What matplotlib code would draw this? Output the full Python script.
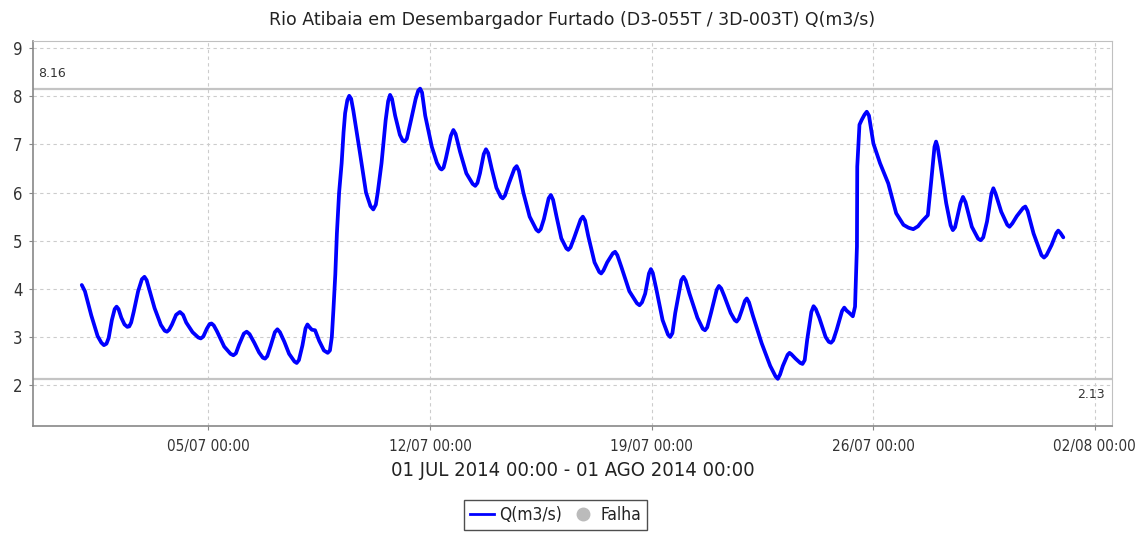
"""
Vazão do Rio Atibaia em Desembargador Furtado - julho/2014
"""

import matplotlib
matplotlib.use("Agg")
import matplotlib.pyplot as plt
import matplotlib.dates as mdates
from matplotlib.lines import Line2D
import pandas as pd

# dias desde 01/07/2014 00:00 e vazão (m3/s)
dias = [
    0.00, 0.10, 0.30, 0.50, 0.62, 0.70, 0.78, 0.85, 0.95, 1.04, 1.10, 1.16, 1.25, 1.35,
    1.44, 1.50, 1.56, 1.64, 1.78, 1.90, 1.98, 2.05, 2.15, 2.30, 2.50, 2.62, 2.69, 2.76,
    2.85, 2.98, 3.10, 3.20, 3.30, 3.50, 3.68, 3.76, 3.84, 3.95, 4.04, 4.10, 4.17, 4.27,
    4.50, 4.70, 4.79, 4.87, 4.97, 5.12, 5.21, 5.30, 5.45, 5.60, 5.72, 5.79, 5.86, 5.97,
    6.10, 6.18, 6.26, 6.40, 6.55, 6.72, 6.79, 6.86, 6.97, 7.07, 7.13, 7.20, 7.27, 7.37,
    7.50, 7.65, 7.77, 7.84, 7.90, 7.95, 8.01, 8.06, 8.13, 8.21, 8.27, 8.32, 8.39, 8.45,
    8.51, 8.58, 8.79, 8.98, 9.12, 9.21, 9.29, 9.35, 9.47, 9.60, 9.68, 9.74, 9.80, 9.90,
    10.05, 10.14, 10.20, 10.27, 10.40, 10.55, 10.63, 10.69, 10.75, 10.85, 11.06, 11.22,
    11.32, 11.37, 11.43, 11.50, 11.66, 11.74, 11.81, 11.95, 12.15, 12.35, 12.43, 12.50,
    12.58, 12.70, 12.77, 12.84, 12.95, 13.10, 13.24, 13.30, 13.37, 13.50, 13.67, 13.74,
    13.81, 13.95, 14.15, 14.36, 14.43, 14.50, 14.60, 14.75, 14.82, 14.89, 15.00, 15.15,
    15.31, 15.37, 15.44, 15.55, 15.76, 15.83, 15.90, 16.00, 16.20, 16.35, 16.41, 16.48,
    16.60, 16.78, 16.85, 16.92, 17.05, 17.30, 17.54, 17.62, 17.70, 17.80, 17.92, 17.98,
    18.04, 18.15, 18.35, 18.52, 18.59, 18.66, 18.75, 18.94, 19.01, 19.08, 19.20, 19.45,
    19.62, 19.69, 19.76, 19.88, 20.06, 20.13, 20.20, 20.30, 20.50, 20.63, 20.69, 20.76,
    20.85, 20.95, 21.01, 21.08, 21.20, 21.48, 21.75, 21.92, 21.99, 22.06, 22.15, 22.30,
    22.36, 22.42, 22.55, 22.70, 22.77, 22.84, 22.92, 23.05, 23.12, 23.19, 23.30, 23.50,
    23.60, 23.67, 23.74, 23.85, 24.02, 24.09, 24.16, 24.25, 24.36, 24.43, 24.49, 24.50,
    24.57, 24.64, 24.73, 24.80, 24.87, 25.01, 25.22, 25.48, 25.73, 25.96, 26.12, 26.27,
    26.42, 26.54, 26.73, 26.84, 26.94, 26.99, 27.04, 27.12, 27.31, 27.45, 27.52, 27.59,
    27.76, 27.84, 27.92, 28.12, 28.32, 28.40, 28.48, 28.60, 28.74, 28.80, 28.87, 29.05,
    29.24, 29.31, 29.40, 29.54, 29.74, 29.81, 29.88, 30.07, 30.32, 30.40, 30.48, 30.64,
    30.79, 30.85, 30.92, 31.01,
]
vazao = [
    4.08, 3.95, 3.45, 3.02, 2.88, 2.83, 2.86, 2.98, 3.35, 3.58, 3.63, 3.58, 3.40, 3.26,
    3.21, 3.22, 3.30, 3.52, 3.95, 4.20, 4.25, 4.18, 3.95, 3.60, 3.25, 3.13, 3.11, 3.15,
    3.26, 3.46, 3.52, 3.46, 3.30, 3.10, 2.99, 2.97, 3.01, 3.17, 3.27, 3.28, 3.24, 3.12,
    2.80, 2.65, 2.62, 2.66, 2.84, 3.07, 3.11, 3.06, 2.88, 2.68, 2.57, 2.55, 2.60, 2.82,
    3.10, 3.16, 3.10, 2.90, 2.65, 2.49, 2.46, 2.52, 2.82, 3.18, 3.26, 3.20, 3.15, 3.14,
    2.92, 2.72, 2.67, 2.72, 3.00, 3.56, 4.30, 5.15, 6.00, 6.61, 7.25, 7.65, 7.92, 8.01,
    7.95, 7.70, 6.82, 6.00, 5.72, 5.65, 5.75, 6.00, 6.61, 7.50, 7.90, 8.03, 7.95, 7.60,
    7.20, 7.08, 7.06, 7.12, 7.50, 7.95, 8.12, 8.16, 8.08, 7.60, 6.95, 6.62,
    6.50, 6.48, 6.52, 6.70, 7.18, 7.30, 7.22, 6.85, 6.40, 6.18, 6.14, 6.20,
    6.40, 6.80, 6.90, 6.82, 6.50, 6.10, 5.91, 5.88, 5.94, 6.20, 6.50, 6.55,
    6.45, 6.00, 5.50, 5.23, 5.19, 5.24, 5.45, 5.88, 5.95, 5.85, 5.50, 5.05,
    4.84, 4.81, 4.86, 5.05, 5.44, 5.50, 5.42, 5.10, 4.55, 4.35, 4.32, 4.38,
    4.55, 4.74, 4.77, 4.70, 4.45, 3.95, 3.70, 3.66, 3.72, 3.90, 4.32, 4.41,
    4.33, 4.00, 3.35, 3.05, 3.00, 3.08, 3.50, 4.18, 4.25, 4.17, 3.90, 3.40,
    3.17, 3.14, 3.20, 3.50, 3.98, 4.06, 4.01, 3.85, 3.50, 3.35, 3.32, 3.38,
    3.55, 3.75, 3.80, 3.72, 3.45, 2.87, 2.40, 2.18, 2.13, 2.22, 2.40, 2.63,
    2.67, 2.64, 2.55, 2.46, 2.44, 2.52, 2.95, 3.52, 3.64, 3.58, 3.40, 3.00,
    2.90, 2.88, 2.93, 3.15, 3.54, 3.61, 3.55, 3.50, 3.43, 3.63, 4.88, 6.54,
    7.41, 7.51, 7.62, 7.68, 7.60, 7.02, 6.61, 6.19, 5.57, 5.33, 5.27, 5.24,
    5.30, 5.40, 5.53, 6.26, 6.95, 7.06, 6.95, 6.61, 5.78, 5.32, 5.22, 5.28,
    5.78, 5.91, 5.80, 5.29, 5.04, 5.01, 5.07, 5.40, 5.98, 6.09, 5.98, 5.60,
    5.33, 5.29, 5.36, 5.51, 5.68, 5.71, 5.62, 5.15, 4.70, 4.65, 4.70, 4.91,
    5.16, 5.21, 5.16, 5.07,
]

inicio = pd.Timestamp("2014-07-01 00:00")
tempos = inicio + pd.to_timedelta(dias, unit="D")

vmax = 8.16
vmin = 2.13
ticks_x = pd.to_datetime(["2014-07-05", "2014-07-12", "2014-07-19", "2014-07-26", "2014-08-02"])
ticks_y = [2, 3, 4, 5, 6, 7, 8, 9]

titulo = "Rio Atibaia em Desembargador Furtado (D3-055T / 3D-003T) Q(m3/s)"
periodo = "01 JUL 2014 00:00 - 01 AGO 2014 00:00"

fonte_estreita = ["Liberation Sans Narrow", "DejaVu Sans"]

fig = plt.figure(figsize=(11.38, 5.35), dpi=100)
ax = fig.add_axes([0.0293, 0.2037, 0.9479, 0.7197])

ax.plot(tempos, vazao, color="#0000ff", linewidth=2.7, solid_joinstyle="round",
        solid_capstyle="round", zorder=3)

# linhas de máximo e mínimo
ax.axhline(vmax, color="#c4c4c4", linewidth=1.6, zorder=2)
ax.axhline(vmin, color="#c4c4c4", linewidth=1.6, zorder=2)
ax.text(0.004, vmax + 0.18, f"{vmax:.2f}", transform=ax.get_yaxis_transform(),
        fontsize=9, color="#333333", ha="left", va="bottom")
ax.text(0.993, vmin - 0.18, f"{vmin:.2f}", transform=ax.get_yaxis_transform(),
        fontsize=9, color="#333333", ha="right", va="top")

ax.set_xlim(inicio - pd.Timedelta(days=1.53), inicio + pd.Timedelta(days=32.55))
ax.set_ylim(1.15, 9.15)
ax.set_xticks(ticks_x)
ax.xaxis.set_major_formatter(mdates.DateFormatter("%d/%m %H:%M"))
ax.set_yticks(ticks_y)

ax.grid(True, color="#cccccc", linestyle=(0, (3, 3)), linewidth=0.8)
for lado in ["top", "right"]:
    ax.spines[lado].set_color("#c0c0c0")
for lado in ["left", "bottom"]:
    ax.spines[lado].set_color("#888888")
    ax.spines[lado].set_linewidth(1.2)
ax.tick_params(axis="both", length=3, color="#888888")
ax.tick_params(axis="y", labelsize=12, pad=5)
ax.tick_params(axis="x", labelsize=11, pad=6)
for lab in ax.get_xticklabels() + ax.get_yticklabels():
    lab.set_family(fonte_estreita)
    lab.set_stretch("condensed")
    lab.set_color("#333333")

fig.text(0.503, 0.962, titulo, ha="center", va="center", fontsize=12.5, color="#222222")
fig.text(0.503, 0.121, periodo, ha="center", va="center", fontsize=14.5,
         color="#222222", family=fonte_estreita, stretch="condensed")

handles = [
    Line2D([], [], color="#0000ff", linewidth=2),
    Line2D([], [], color="#bbbbbb", marker="o", linestyle="none", markersize=9),
]
leg = fig.legend(handles, ["Q(m3/s)", "Falha"], loc="upper center",
                 bbox_to_anchor=(0.488, 0.066), ncol=2, frameon=True, fancybox=False,
                 edgecolor="#222222", fontsize=12.5, handlelength=1.4, handletextpad=0.3,
                 columnspacing=0.5, borderpad=0.35, borderaxespad=0)
leg.get_frame().set_linewidth(1.0)
for t in leg.get_texts():
    t.set_family(fonte_estreita)
    t.set_stretch("condensed")
    t.set_color("#222222")

fig.savefig("out.png", dpi=100)
